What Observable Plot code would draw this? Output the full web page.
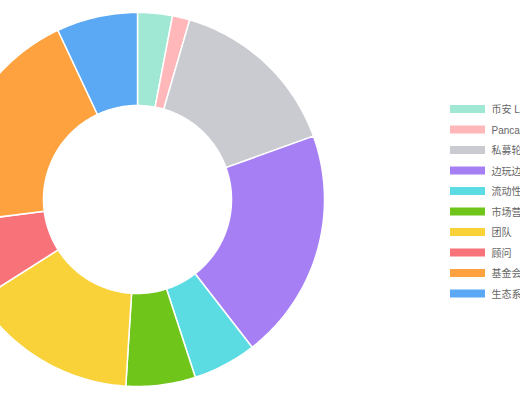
<!DOCTYPE html>
<html><head><meta charset="utf-8">
<script src="https://cdn.jsdelivr.net/npm/d3@7"></script>
<script src="https://cdn.jsdelivr.net/npm/@observablehq/plot@0.6"></script>
<style>html,body{margin:0;padding:0;background:#fff;overflow:hidden;width:520px;height:400px}</style>
</head><body><div id="chart"></div>
<script>
const labels = ["币安 Launchpool","PancakeSwap","私募轮","边玩边赚","流动性","市场营销","团队","顾问","基金会","生态系统"];
const values = [3, 1.5, 15, 20, 5.5, 6, 15, 7, 20, 7];
const colors = ["#a0e8d3","#ffb7ba","#c9cbd0","#a77ff5","#5adce2","#70c51a","#f8d238","#f8727a","#fda23e","#5ba8f5"];

const W = 520, H = 400;
const cx = 137, cy = 199, R = 187, r0 = 94;
const total = d3.sum(values);
const pts = [];
let cum = 0;
labels.forEach((lab, i) => {
  const a0 = cum / total * 2 * Math.PI; cum += values[i];
  const a1 = cum / total * 2 * Math.PI;
  const n = Math.max(2, Math.ceil((a1 - a0) / (Math.PI / 180)));
  for (let k = 0; k <= n; k++) pts.push({lab, a: a0 + (a1 - a0) * k / n, rad: R});
  for (let k = n; k >= 0; k--) pts.push({lab, a: a0 + (a1 - a0) * k / n, rad: r0});
});
const legendY = (i) => 109 + i * 20.5;
const font = "'Liberation Sans','Noto Sans CJK SC',sans-serif";

const chart = Plot.plot({
  width: W, height: H, margin: 0,
  x: {domain: [0, W], range: [0, W], axis: null},
  y: {domain: [0, H], range: [0, H], axis: null},
  color: {domain: labels, range: colors},
  style: {fontFamily: font, background: "#fff", overflow: "visible"},
  marks: [
    Plot.line(pts, {
      x: d => cx + d.rad * Math.sin(d.a),
      y: d => cy - d.rad * Math.cos(d.a),
      z: "lab", fill: "lab", stroke: "#fff", strokeWidth: 1.5,
      curve: "linear-closed", strokeLinejoin: "round"
    }),
    Plot.rect(labels, {
      x1: () => 450, x2: () => 485,
      y1: (d, i) => legendY(i) - 4, y2: (d, i) => legendY(i) + 4,
      fill: d => d
    }),
    Plot.text(labels, {
      x: () => 491, y: (d, i) => legendY(i), text: d => d,
      textAnchor: "start", fill: "#666", fontSize: 10, dy: 0.5
    })
  ]
});
document.getElementById("chart").appendChild(chart);
</script></body></html>
